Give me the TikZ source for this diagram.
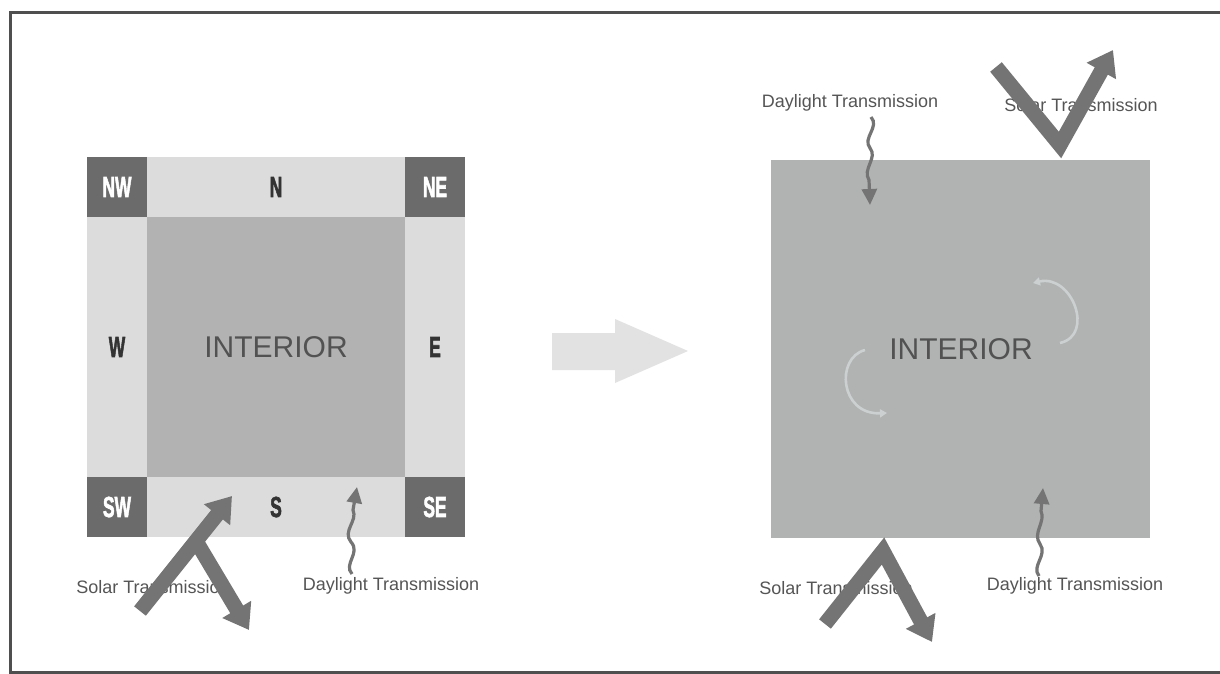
\documentclass[tikz,border=0pt]{standalone}
\usepackage{fontspec}
\setmainfont{Liberation Sans}
\newfontfamily\heavyfont[FakeBold=2.5]{Liberation Sans Bold}
\usetikzlibrary{arrows.meta}
\definecolor{framecol}{HTML}{4F4F4F}
\definecolor{cornercol}{HTML}{6B6B6B}
\definecolor{stripcol}{HTML}{DCDCDC}
\definecolor{intcol}{HTML}{B2B2B2}
\definecolor{rintcol}{HTML}{B1B3B3}
\definecolor{arrowcol}{HTML}{747474}
\definecolor{bigarrowcol}{HTML}{E2E2E2}
\definecolor{labelcol}{HTML}{555555}
\definecolor{letcol}{HTML}{333333}
\definecolor{swirlcol}{HTML}{CCD0D0}
\tikzset{
  cell/.style={rectangle, inner sep=0pt, outer sep=0pt},
  corner/.style={cell, fill=cornercol, minimum width=60pt, minimum height=60pt,
     text=white, font=\heavyfont\fontsize{29}{29}\selectfont},
  stripv/.style={cell, fill=stripcol, minimum width=60pt, minimum height=260pt,
     text=letcol, font=\heavyfont\fontsize{29}{29}\selectfont},
  striph/.style={cell, fill=stripcol, minimum width=258pt, minimum height=60pt,
     text=letcol, font=\heavyfont\fontsize{29}{29}\selectfont},
  intbox/.style={cell, text=letcol!85!white, font=\fontsize{30}{30}\selectfont},
  lbl/.style={inner sep=0pt, text=labelcol, font=\fontsize{18}{20}\selectfont},
  solar/.style={draw=arrowcol, line width=15pt, line join=miter,
     -{Triangle[length=24pt,width=32pt]}},
  daylight/.style={draw=arrowcol, line width=3.2pt,
     -{Triangle[length=16pt,width=15pt]}},
  swirl/.style={draw=swirlcol, line width=2.6pt},
}
\newcommand{\cond}[1]{\scalebox{0.6}[1]{#1}}
\begin{document}
\begin{tikzpicture}[x=1pt,y=-1pt]
\useasboundingbox (0,0) rectangle (1220,674);
\fill[white] (0,0) rectangle (1220,674);
\draw[framecol, line width=3pt] (1222,13) -- (10,13) -- (10,672) -- (1222,672);

% ---------- left grid ----------
\node[corner] (nw) at (117,187) {\cond{NW}};
\node[striph] (n) at (276,187) {\cond{N}};
\node[corner] (ne) at (435,187) {\cond{NE}};
\node[stripv] (w) at (117,347) {\cond{W}};
\node[intbox, fill=intcol, minimum width=258pt, minimum height=260pt] (int) at (276,347) {INTERIOR};
\node[stripv] (e) at (435,347) {\cond{E}};
\node[corner] (sw) at (117,507) {\cond{SW}};
\node[striph] (s) at (276,507) {\cond{S}};
\node[corner] (se) at (435,507) {\cond{SE}};

% labels left
\node[lbl] (lsolar) at (153,587) {Solar Transmission};
\node[lbl] (lday) at (391,586) {Daylight Transmission};

% left solar arrows
\coordinate (ls0) at (140,611);
\coordinate (ls1) at (232,496);
\coordinate (lb0) at (196,541);
\coordinate (lb1) at (249,630);
\draw[solar] (ls0) -- (ls1);
\draw[solar] (lb0) -- (lb1);

% left daylight arrow
\coordinate (ld0) at (352,574);
\coordinate (ld1) at (357,487);
\draw[daylight] (ld0) .. controls (343,564) and (361,553) .. (351,542)
   .. controls (342,531) and (358,521) .. (353,510) -- (ld1);

% ---------- middle arrow ----------
\fill[bigarrowcol] (552,333) -- (615,333) -- (615,319) -- (688,351)
   -- (615,383) -- (615,370) -- (552,370) -- cycle;

% ---------- right square ----------
\node[intbox, fill=rintcol, minimum width=379pt, minimum height=378pt] (rint) at (960.5,349) {};
\node[intbox] (rtext) at (961,349) {INTERIOR};

% swirls
\draw[swirl, {Triangle[length=7pt,width=8pt]}-] (1033,283) .. controls (1072,274) and (1095,335) .. (1060,343);
\draw[swirl, -{Triangle[length=7pt,width=8pt]}] (865,350) .. controls (835,358) and (840,415) .. (887,413);

% top labels
\node[lbl] (tday) at (850,103) {Daylight Transmission};
\node[lbl] (tsolar) at (1081,105) {Solar Transmission};
% bottom labels
\node[lbl] (bsolar) at (836,588) {Solar Transmission};
\node[lbl] (bday) at (1075,586) {Daylight Transmission};

% top solar V
\coordinate (tv0) at (996,67);
\coordinate (tv) at (1060,145);
\coordinate (tv1) at (1113,50);
\draw[solar] (tv0) -- (tv) -- (tv1);

% bottom solar Lambda
\coordinate (bv0) at (825,624);
\coordinate (bv) at (883,551);
\coordinate (bv1) at (932,642);
\draw[solar] (bv0) -- (bv) -- (bv1);

% top daylight arrow
\coordinate (td0) at (871,117);
\coordinate (td1) at (870,205);
\draw[daylight] (td0) .. controls (880,127) and (862,138) .. (870,148)
   .. controls (878,158) and (862,169) .. (869,180) -- (td1);

% bottom daylight arrow
\coordinate (bd0) at (1039,576);
\coordinate (bd1) at (1043,488);
\draw[daylight] (bd0) .. controls (1031,566) and (1048,555) .. (1040,544)
   .. controls (1032,533) and (1046,522) .. (1041,511) -- (bd1);
\end{tikzpicture}
\end{document}
